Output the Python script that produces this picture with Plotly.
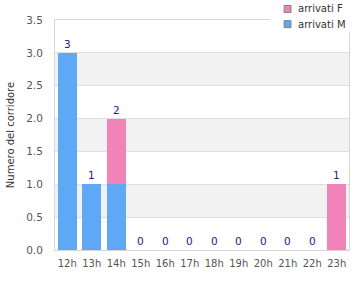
import plotly.graph_objects as go

categories = ["12h", "13h", "14h", "15h", "16h", "17h", "18h", "19h", "20h", "21h", "22h", "23h"]
arrivati_m = [3, 1, 1, 0, 0, 0, 0, 0, 0, 0, 0, 0]
arrivati_f = [0, 0, 1, 0, 0, 0, 0, 0, 0, 0, 0, 1]
totals = [m + f for m, f in zip(arrivati_m, arrivati_f)]
y_ticks = [0.0, 0.5, 1.0, 1.5, 2.0, 2.5, 3.0, 3.5]
series_names = ["arrivati F", "arrivati M"]

BLUE = "#5fa8f5"
PINK = "#f283b9"
FONT = "DejaVu Sans"

fig = go.Figure()
fig.add_trace(go.Bar(x=categories, y=arrivati_m, marker=dict(color=BLUE, line=dict(width=0)),
                     name="arrivati M", showlegend=False, hoverinfo="skip"))
fig.add_trace(go.Bar(x=categories, y=arrivati_f, marker=dict(color=PINK, line=dict(width=0)),
                     name="arrivati F", showlegend=False, hoverinfo="skip"))

annotations = []
for c, t in zip(categories, totals):
    annotations.append(dict(x=c, y=t, xref="x", yref="y", text=str(t), showarrow=False,
                            yanchor="middle", yshift=9,
                            font=dict(color="#1a1a8c", size=10.5, family=FONT)))

# alternating bands
shapes = []
for i in range(len(y_ticks) - 1):
    if i % 2 == 1:
        shapes.append(dict(type="rect", xref="paper", yref="y", x0=0, x1=1,
                           y0=y_ticks[i], y1=y_ticks[i + 1], fillcolor="#f2f2f2",
                           line=dict(width=0), layer="below"))

# custom legend (white box covering top-right corner, squares + labels)
shapes.append(dict(type="rect", xref="paper", yref="paper", x0=0.732, x1=1.04, y0=0.943, y1=1.09,
                   fillcolor="white", line=dict(width=0), layer="above"))
leg_colors = [PINK, BLUE]
leg_y = [1.048, 0.982]
for col, yc, nm in zip(leg_colors, leg_y, series_names):
    shapes.append(dict(type="rect", xref="paper", yref="paper", x0=0.7793, x1=0.8027,
                       y0=yc - 0.0152, y1=yc + 0.0152, fillcolor=col,
                       line=dict(color="#808080", width=1), layer="above"))
    annotations.append(dict(x=0.8194, y=yc, xref="paper", yref="paper", text=nm, showarrow=False,
                            xanchor="left", yanchor="middle",
                            font=dict(color="#333", size=10, family=FONT)))

fig.update_layout(
    width=360, height=300,
    margin=dict(l=51, r=10, t=20, b=50),
    paper_bgcolor="white", plot_bgcolor="white",
    barmode="stack", bargap=0.24,
    font=dict(family=FONT, size=10, color="#444"),
    shapes=shapes, annotations=annotations,
    showlegend=False,
    xaxis=dict(showgrid=False, showline=True, linecolor="#d6d6d6", linewidth=1, mirror=True,
               ticks="outside", ticklen=4, tickcolor="rgba(0,0,0,0)",
               tickfont=dict(size=10, color="#555")),
    yaxis=dict(range=[0, 3.5], tickvals=y_ticks, ticktext=[f"{v:.1f}" for v in y_ticks],
               showgrid=True, gridcolor="#e0e0e0", gridwidth=1, showline=True, linecolor="#d6d6d6",
               linewidth=1, mirror=True, zeroline=False,
               ticks="outside", ticklen=9, tickcolor="rgba(0,0,0,0)",
               tickfont=dict(size=10.5, color="#555"),
               title=dict(text="Numero del corridore", font=dict(size=10, color="#333"), standoff=9)),
)

fig.write_html("out.html")
